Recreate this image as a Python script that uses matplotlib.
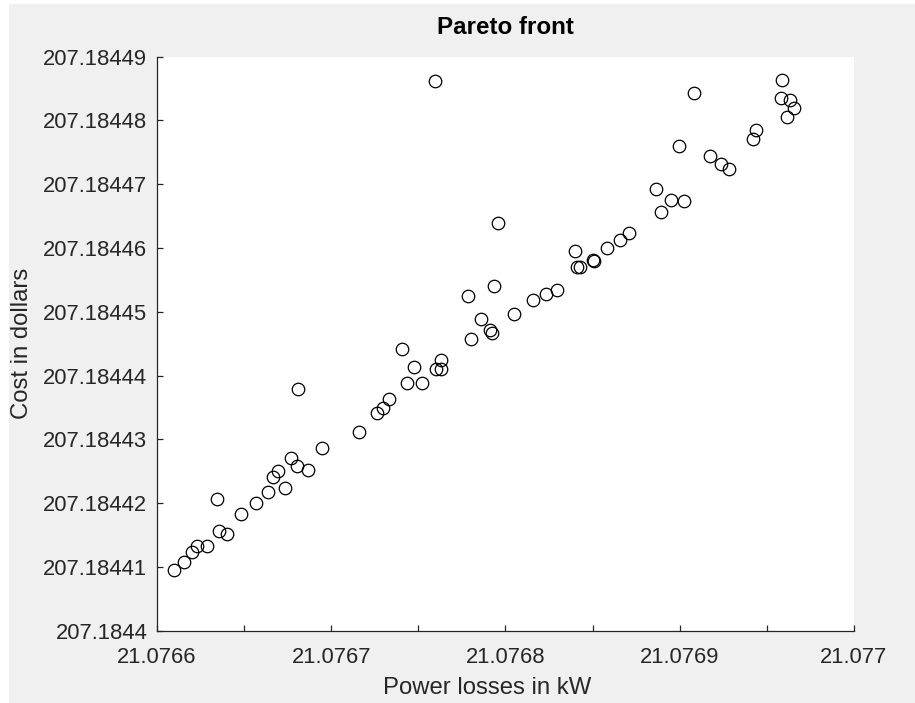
import matplotlib
matplotlib.use("Agg")
import matplotlib.pyplot as plt
from matplotlib.ticker import FixedLocator, FixedFormatter
from matplotlib.patches import Rectangle

plt.rcParams['font.family'] = ['Liberation Sans', 'DejaVu Sans']

# Power losses in kW
power_losses = [
    21.0766098, 21.0766157, 21.0766203, 21.0766231, 21.0766285, 21.0766346,
    21.0766356, 21.0766400, 21.0766482, 21.0766568, 21.0766636, 21.0766664,
    21.0766693, 21.0766735, 21.0766769, 21.0766802, 21.0766869, 21.0766811,
    21.0766946, 21.0767161, 21.0767261, 21.0767299, 21.0767334, 21.0767408,
    21.0767437, 21.0767475, 21.0767523, 21.0767629, 21.0767602, 21.0767630,
    21.0767784, 21.0767936, 21.0767959, 21.0767860, 21.0767801, 21.0767912,
    21.0767921, 21.0768051, 21.0768157, 21.0768233, 21.0768298, 21.0768400,
    21.0768413, 21.0768428, 21.0768501, 21.0768509, 21.0768582, 21.0768658,
    21.0768710, 21.0768862, 21.0768890, 21.0768949, 21.0769026, 21.0768995,
    21.0769084, 21.0769171, 21.0769238, 21.0769280, 21.0769439, 21.0769420,
    21.0769586, 21.0769582, 21.0769634, 21.0769653, 21.0769615, 21.0767596,
]

# Cost in dollars
cost = [
    207.18440955, 207.1844107, 207.1844124, 207.1844133, 207.1844133, 207.1844207,
    207.1844157, 207.1844152, 207.1844183, 207.1844201, 207.1844217, 207.1844241,
    207.1844250, 207.1844224, 207.1844271, 207.1844259, 207.1844252, 207.1844379,
    207.1844286, 207.1844311, 207.1844342, 207.1844349, 207.1844363, 207.1844442,
    207.1844389, 207.1844413, 207.1844389, 207.1844425, 207.1844410, 207.1844410,
    207.1844525, 207.1844541, 207.1844639, 207.1844489, 207.1844458, 207.1844472,
    207.1844466, 207.1844497, 207.1844518, 207.1844528, 207.1844534, 207.1844595,
    207.1844571, 207.1844570, 207.1844581, 207.1844580, 207.1844600, 207.1844613,
    207.1844624, 207.1844693, 207.1844657, 207.1844676, 207.1844673, 207.1844760,
    207.1844843, 207.1844744, 207.1844731, 207.1844724, 207.1844785, 207.1844771,
    207.1844863, 207.1844835, 207.1844832, 207.1844820, 207.1844805, 207.1844862,
]

x_ticks = [21.0766, 21.07665, 21.0767, 21.07675, 21.0768, 21.07685, 21.0769, 21.07695, 21.077]
x_tick_labels = ["21.0766", "", "21.0767", "", "21.0768", "", "21.0769", "", "21.077"]
y_ticks = [207.1844, 207.18441, 207.18442, 207.18443, 207.18444, 207.18445,
           207.18446, 207.18447, 207.18448, 207.18449]
y_tick_labels = ["207.1844", "207.18441", "207.18442", "207.18443", "207.18444",
                 "207.18445", "207.18446", "207.18447", "207.18448", "207.18449"]

TXT = '#262626'
fig = plt.figure(figsize=(9.15, 7.03), dpi=100, facecolor='white')
fig.patches.append(Rectangle((9 / 915, 0), 1, (703 - 4) / 703, transform=fig.transFigure,
                             facecolor='#f0f0f0', edgecolor='none', zorder=-10))

ax = fig.add_axes([157 / 915, (703 - 630.7) / 703, 697 / 915, 574 / 703])
ax.set_facecolor('white')

ax.plot(power_losses, cost, linestyle='none', marker='o', markersize=9,
        markerfacecolor='none', markeredgecolor='black', markeredgewidth=0.9)

ax.set_xlim(x_ticks[0], x_ticks[-1])
ax.set_ylim(y_ticks[0], y_ticks[-1])
ax.xaxis.set_major_locator(FixedLocator(x_ticks))
ax.xaxis.set_major_formatter(FixedFormatter(x_tick_labels))
ax.yaxis.set_major_locator(FixedLocator(y_ticks))
ax.yaxis.set_major_formatter(FixedFormatter(y_tick_labels))

for s in ['top', 'right']:
    ax.spines[s].set_visible(False)
for s in ['left', 'bottom']:
    ax.spines[s].set_color(TXT)
    ax.spines[s].set_linewidth(0.9)

ax.tick_params(axis='both', direction='in', length=4.5, width=0.9, color=TXT,
               labelcolor=TXT, labelsize=15.8)
ax.tick_params(axis='x', pad=12)
ax.tick_params(axis='y', pad=7)

xl = ax.set_xlabel('Power losses in kW', fontsize=17.2, color=TXT)
yl = ax.set_ylabel('Cost in dollars', fontsize=17.2, color=TXT)
xl.set_verticalalignment('center')
yl.set_verticalalignment('center')
yl.set_horizontalalignment('center')
ax.xaxis.set_label_coords((487 - 157) / 697, (630.7 - 688) / 574)
ax.yaxis.set_label_coords((22 - 157) / 697, 0.5)
ax.set_title('Pareto front', fontsize=17.4, fontweight='bold', color='black',
             y=(630.7 - 35.7) / 574, va='center')

fig.savefig('out.png', dpi=100, facecolor=fig.get_facecolor())
